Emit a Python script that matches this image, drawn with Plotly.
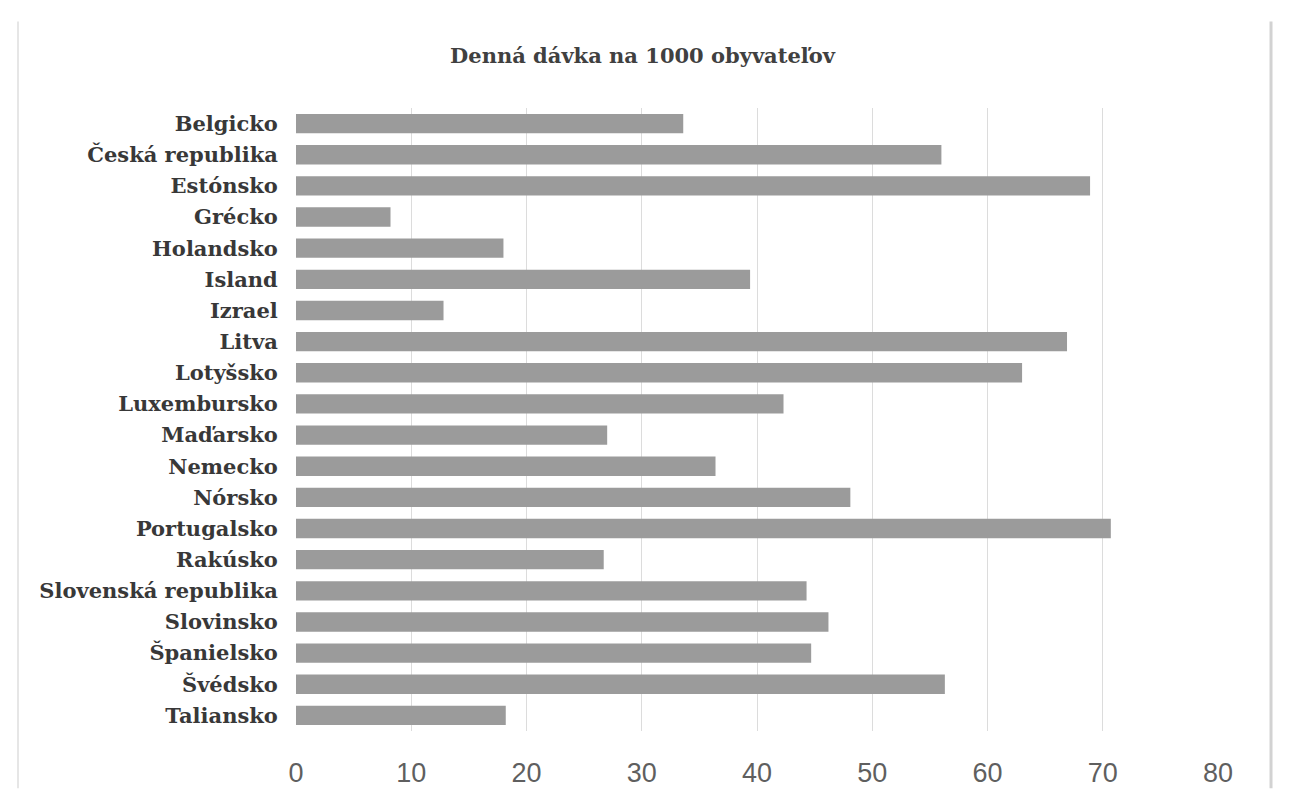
import plotly.graph_objects as go

# Denná dávka na 1000 obyvateľov
countries = ["Belgicko", "Česká republika", "Estónsko", "Grécko", "Holandsko",
             "Island", "Izrael", "Litva", "Lotyšsko", "Luxembursko",
             "Maďarsko", "Nemecko", "Nórsko", "Portugalsko", "Rakúsko",
             "Slovenská republika", "Slovinsko", "Španielsko", "Švédsko", "Taliansko"]
values = [33.6, 56.0, 68.9, 8.2, 18.0,
          39.4, 12.8, 66.9, 63.0, 42.3,
          27.0, 36.4, 48.1, 70.7, 26.7,
          44.3, 46.2, 44.7, 56.3, 18.2]
x_ticks = [0, 10, 20, 30, 40, 50, 60, 70, 80]

fig = go.Figure()
fig.add_trace(go.Bar(x=values, y=countries, orientation="h",
                     marker=dict(color="#9b9b9b", line=dict(width=0))))

fig.update_xaxes(range=[0, 80], tickvals=x_ticks, showgrid=True, gridcolor="#dcdcdc",
                 gridwidth=1, zeroline=False, showline=False, automargin=False,
                 ticks="outside", ticklen=18, tickcolor="rgba(0,0,0,0)",
                 tickfont=dict(family="Liberation Sans", size=27, color="#5f5f5f"))
fig.update_yaxes(autorange="reversed", showgrid=False, showline=False, automargin=False,
                 ticks="outside", ticklen=13, tickcolor="rgba(0,0,0,0)",
                 tickfont=dict(family="DejaVu Serif", size=21, color="#383838", weight="bold"))

# chart frame: only the two side lines show in the picture
fig.add_shape(type="line", xref="paper", yref="paper", x0=-0.3015, x1=-0.3015, y0=-0.092, y1=1.139,
              line=dict(color="#e6e6e6", width=2))
fig.add_shape(type="line", xref="paper", yref="paper", x0=1.0575, x1=1.0575, y0=-0.092, y1=1.139,
              line=dict(color="#d2d2d2", width=3))

# the page puts the figure 8px in from the top-left corner
fig.update_layout(
    width=1295, height=792,
    title=dict(text="<b>Denná dávka na 1000 obyvateľov</b>", x=0.49, xanchor="center",
               y=0.94, yanchor="middle",
               font=dict(family="DejaVu Serif", size=21, color="#404040")),
    margin=dict(l=288, r=85, t=100, b=69),
    bargap=0.38,
    showlegend=False,
    plot_bgcolor="white", paper_bgcolor="white",
)

fig.write_html("out.html")
